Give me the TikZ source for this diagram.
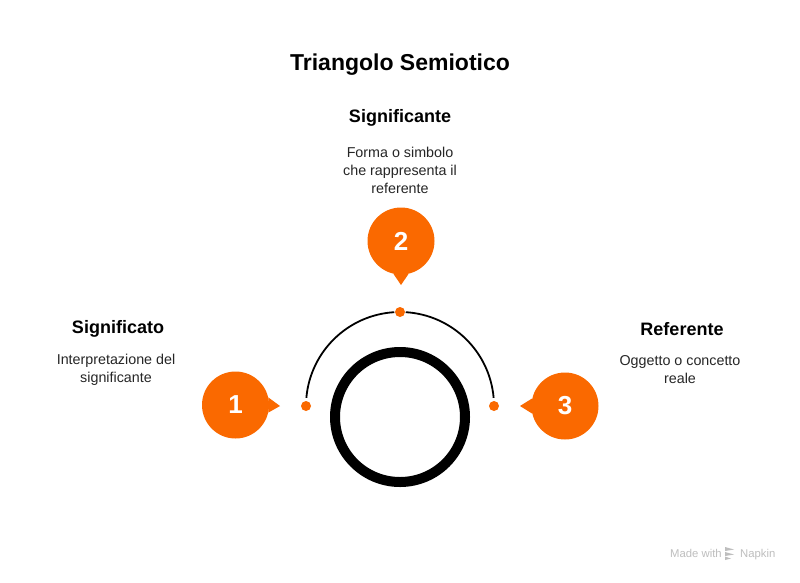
\documentclass[tikz,border=0pt]{standalone}
\usepackage{fontspec}
\setmainfont{Liberation Sans}
\definecolor{napor}{RGB}{250,105,0}
\definecolor{napgray}{RGB}{190,190,190}
\begin{document}
\begin{tikzpicture}[x=1pt,y=-1pt,
  bubble/.style={circle,fill=napor,minimum size=67pt,inner sep=0pt,text=white,font=\fontsize{26}{30}\selectfont\bfseries},
  dotnode/.style={circle,fill=napor,minimum size=10pt,inner sep=0pt},
  headtxt/.style={font=\fontsize{18}{21}\selectfont\bfseries,text=black},
  desctxt/.style={font=\fontsize{14.3}{18}\selectfont,align=center,text=black!85},
  marktxt/.style={font=\fontsize{11.3}{13}\selectfont,text=napgray,anchor=base west,inner sep=0pt}]
\useasboundingbox (0,0) rectangle (800,582);
\fill[white] (0,0) rectangle (800,582);
% title
\node[font=\fontsize{23}{27}\selectfont\bfseries] (title) at (400,65) {Triangolo Semiotico};
% ring
\draw[line width=10pt] (400,417) circle (65);
% arc
\draw[line width=1.8pt] (400,406) ++(-175:94) arc[start angle=-175,end angle=-93.5,radius=94];
\draw[line width=1.8pt] (400,406) ++(-86.5:94) arc[start angle=-86.5,end angle=-5,radius=94];
% dots
\node[dotnode] (d1) at (306,406) {};
\node[dotnode] (d2) at (400,312) {};
\node[dotnode] (d3) at (494,406) {};
% bubbles
\node[bubble] (b1) at (235.5,405) {1};
\node[bubble] (b2) at (401,241) {2};
\node[bubble] (b3) at (565,406) {3};
% pointers
\coordinate (t1) at (280,406);
\coordinate (t2) at (401,285);
\coordinate (t3) at (520,406);
\fill[napor] (b1.13) -- (t1) -- (b1.-13) -- cycle;
\fill[napor] (b2.-77) -- (t2) -- (b2.-103) -- cycle;
\fill[napor] (b3.167) -- (t3) -- (b3.193) -- cycle;
% texts
\node[headtxt] (h2) at (400,118) {Significante};
\node[desctxt] (s2) at (400,170.5) {Forma o simbolo\\che rappresenta il\\referente};
\node[headtxt] (h1) at (118,329) {Significato};
\node[desctxt] (s1) at (116,370) {Interpretazione del\\significante};
\node[headtxt] (h3) at (682,329) {Referente};
\node[desctxt] (s3) at (680,370) {Oggetto o concetto\\reale};
% watermark
\node[marktxt] (mw) at (670,557) {Made with};
\node[marktxt] (nk) at (740,557) {Napkin};
\fill[napgray] (725,547) -- (734,549.5) -- (725,551) -- cycle;
\fill[napgray] (725,552) -- (734,554.5) -- (725,556) -- cycle;
\fill[napgray] (725,556.5) -- (731,558.5) -- (725,560) -- cycle;
\end{tikzpicture}
\end{document}
